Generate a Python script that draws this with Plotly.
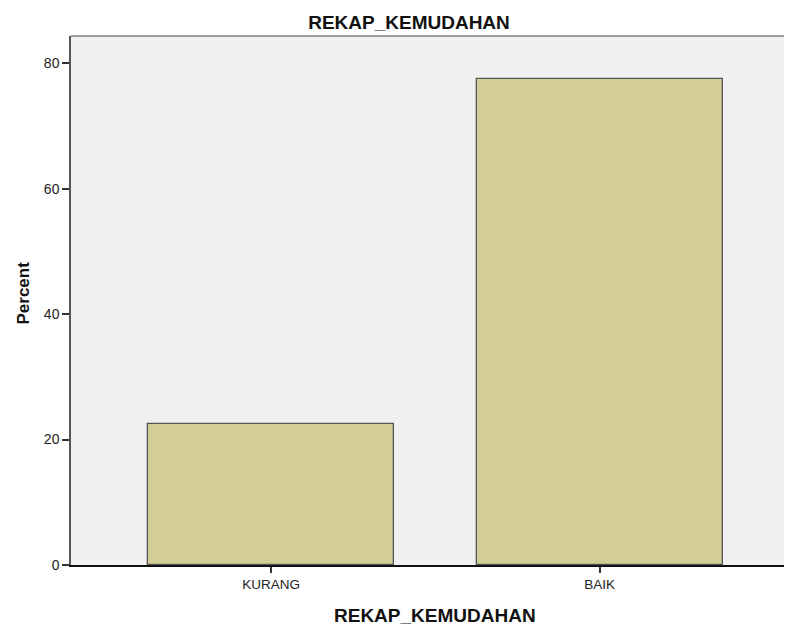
import plotly.graph_objects as go

categories = ["KURANG", "BAIK"]
percent = [22.5, 77.5]
y_ticks = [0, 20, 40, 60, 80]

# page offset of the plotly div (default body margin)
OFF = 8
W, H = 792 - OFF, 628 - OFF
L, T, B = 71 - OFF, 36 - OFF, 628 - 565  # plot area in page px: x 71..792, y 36..565

fig = go.Figure()
fig.add_trace(go.Bar(
    x=[0, 1], y=percent, width=0.75,
    marker=dict(color="#d3ce97", line=dict(color="#555555", width=1.3)),
))

FONT = "Liberation Sans, Arial, sans-serif"
fig.update_layout(
    width=W, height=H,
    margin=dict(l=L, r=0, t=T, b=B, pad=0),
    paper_bgcolor="white", plot_bgcolor="#f0f0f0",
    font=dict(family=FONT, color="#222222", size=13),
    title=dict(text="<b>REKAP_KEMUDAHAN</b>", xref="container", x=(409 - OFF) / W, xanchor="center",
               yref="container", y=1 - (22 - OFF) / H, yanchor="middle",
               font=dict(size=19, color="#111111", family=FONT)),
    showlegend=False,
    bargap=0,
)
fig.update_xaxes(
    range=[-0.6094, 1.5854], tickvals=[0, 1], ticktext=categories,
    showgrid=False, zeroline=False, showline=True, linecolor="#111111", linewidth=1.5,
    ticks="outside", ticklen=6, tickcolor="#333333", tickwidth=1.5,
    tickfont=dict(size=13.5, color="#222222"),
)
fig.update_yaxes(
    range=[0, 84.35], tickvals=y_ticks,
    showgrid=False, zeroline=False, showline=True, linecolor="#555555", linewidth=1.5,
    ticks="outside", ticklen=7, tickcolor="#333333", tickwidth=1.5,
    tickfont=dict(size=14, color="#222222"),
)
fig.add_shape(type="line", xref="paper", yref="paper", x0=0, x1=1, y0=1, y1=1,
              line=dict(color="#808080", width=1.5))

fig.add_annotation(text="<b>REKAP_KEMUDAHAN</b>", xref="paper", yref="paper",
                   x=(435 - 71) / 721, y=(565 - 615) / 529, xanchor="center", yanchor="middle",
                   showarrow=False, font=dict(size=19, color="#111111", family=FONT))
fig.add_annotation(text="<b>Percent</b>", xref="paper", yref="paper", textangle=-90,
                   x=(23 - 71) / 721, y=(565 - 293.5) / 529, xanchor="center", yanchor="middle",
                   showarrow=False, font=dict(size=17, color="#111111", family=FONT))

fig.write_html("out.html")
